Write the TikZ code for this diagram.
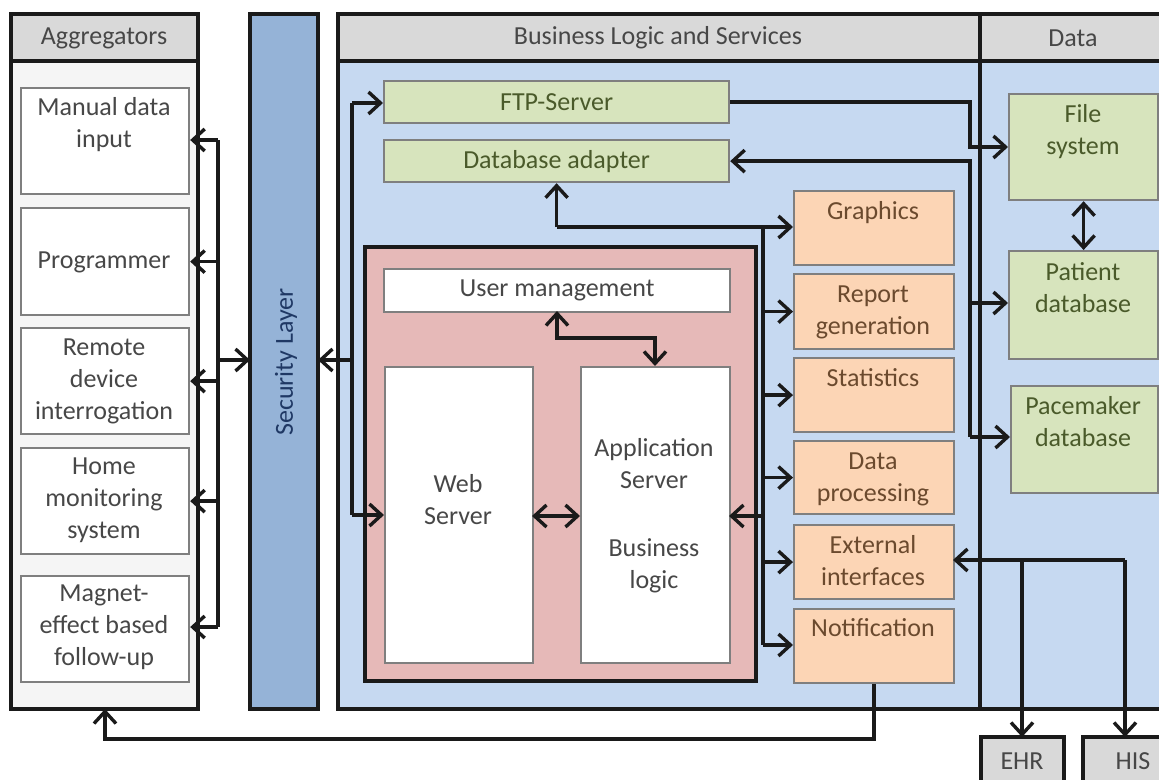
\documentclass[tikz,border=0pt]{standalone}
\usepackage{fontspec}
\setmainfont{Carlito}
\usetikzlibrary{arrows.meta}
\definecolor{hdrgrey}{HTML}{D9D9D9}
\definecolor{linec}{HTML}{1A1A1A}
\definecolor{boxgrey}{HTML}{7F7F7F}
\definecolor{secblue}{HTML}{95B3D7}
\definecolor{bizblue}{HTML}{C6D9F1}
\definecolor{greenf}{HTML}{D7E4BD}
\definecolor{orangef}{HTML}{FCD5B5}
\definecolor{redf}{HTML}{E6B9B8}
\definecolor{txtgrey}{HTML}{474747}
\definecolor{txtgreen}{HTML}{4A5A2A}
\definecolor{txtbrown}{HTML}{6B4A2E}
\definecolor{txtblue}{HTML}{1F3864}
\begin{document}
\begin{tikzpicture}[x=1pt,y=-1pt,
  panel/.style={draw=linec,line width=3.2pt},
  hdr/.style={draw=linec,line width=3.2pt,fill=hdrgrey},
  bx/.style={draw=boxgrey,line width=2.2pt,anchor=north west,inner sep=0pt},
  lbl/.style={font=\fontsize{26}{32}\selectfont,align=center,inner sep=0pt,text=txtgrey},
  lblg/.style={lbl,text=txtgreen},
  lblo/.style={lbl,text=txtbrown},
  ln/.style={draw=linec,line width=3.4pt},
  tip/.style={},
  arr/.style={ln,-{Straight Barb[length=12pt,width=22pt,line width=3.4pt]}},
  darr/.style={ln,{Straight Barb[length=12pt,width=22pt,line width=3.4pt]}-{Straight Barb[length=12pt,width=22pt,line width=3.4pt]}}
]
\useasboundingbox (0,0) rectangle (1159,779);
\clip (0,0) rectangle (1159,779);
\fill[white] (0,0) rectangle (1159,779);

% Aggregators panel
\filldraw[panel,fill=white!96!black] (11,14) rectangle (198,709);
\filldraw[hdr] (11,14) rectangle (198,61);
\node[lbl] (haggr) at (104,38) {Aggregators};

% Security layer
\filldraw[panel,fill=secblue] (250,14) rectangle (318,709);
\node[lbl,text=txtblue,rotate=90] (seclbl) at (286,362) {Security Layer};
\coordinate (secW) at (250,360);
\coordinate (secE) at (318,360);

% Business + Data panel
\filldraw[panel,fill=bizblue] (338,14) rectangle (1175,709);
\filldraw[hdr] (338,14) rectangle (1175,61);
\draw[panel] (980,14) -- (980,709);
\node[lbl] (hbiz) at (658,38) {Business Logic and Services};
\node[lbl] (hdata) at (1073,38) {Data};

% Aggregator boxes
\node[bx,fill=white,minimum width=168,minimum height=106] (m1) at (20,87) {};
\node[bx,fill=white,minimum width=168,minimum height=107] (m2) at (20,207) {};
\node[bx,fill=white,minimum width=168,minimum height=106] (m3) at (20,327) {};
\node[bx,fill=white,minimum width=168,minimum height=106] (m4) at (20,447) {};
\node[bx,fill=white,minimum width=168,minimum height=106] (m5) at (20,575) {};
\node[lbl] (t1) at (104,125) {Manual data\\input};
\node[lbl] (t2) at (104,262) {Programmer};
\node[lbl] (t3) at (104,381) {Remote\\device\\interrogation};
\node[lbl] (t4) at (104,500) {Home\\monitoring\\system};
\node[lbl] (t5) at (104,627) {Magnet-\\effect based\\follow-up};

% Aggregator bus
\coordinate (bus) at (218,0);
\coordinate (m1p) at (198,140);
\coordinate (m5p) at (198,627);
\draw[ln] (m1p -| bus) -- (m5p -| bus);
\draw[arr] (m1p -| bus) -- (m1p -| m1.east);
\draw[arr] (m2.east -| bus) -- (m2.east);
\draw[arr] (m3.east -| bus) -- (m3.east);
\draw[arr] (m4.east -| bus) -- (m4.east);
\draw[arr] (m5p -| bus) -- (m5p -| m5.east);
\draw[arr] (secW -| bus) -- (secW);

% Green service boxes
\node[bx,fill=greenf,minimum width=345,minimum height=42] (ftp) at (383,80) {};
\node[lblg] (ftpT) at (ftp.center) {FTP-Server};
\node[bx,fill=greenf,minimum width=345,minimum height=42] (dba) at (383,139) {};
\node[lblg] (dbaT) at (dba.center) {Database adapter};

% Red application box
\filldraw[panel,fill=redf] (365,247) rectangle (756,681);
\node[bx,fill=white,minimum width=346,minimum height=43] (um) at (383,268) {};
\node[lbl] (umT) at (um.center) {User management};
\node[bx,fill=white,minimum width=148,minimum height=296] (web) at (384,366) {};
\node[lbl] (webT) at (458,500) {Web\\Server};
\node[bx,fill=white,minimum width=149,minimum height=296] (app) at (580,366) {};
\node[lbl] (appT) at (654,516) {Application\\Server\\[36pt]Business\\logic};

% Orange boxes
\node[bx,fill=orangef,minimum width=160,minimum height=74] (gr) at (793,190) {};
\node[bx,fill=orangef,minimum width=160,minimum height=75] (rg) at (793,273) {};
\node[bx,fill=orangef,minimum width=160,minimum height=74] (st) at (793,357) {};
\node[bx,fill=orangef,minimum width=160,minimum height=73] (dp) at (793,440) {};
\node[bx,fill=orangef,minimum width=160,minimum height=74] (ei) at (793,524) {};
\node[bx,fill=orangef,minimum width=160,minimum height=74] (nt) at (793,608) {};
\node[lblo] (grT) at (873,213) {Graphics};
\node[lblo] (rgT) at (873,312) {Report\\generation};
\node[lblo] (stT) at (873,378) {Statistics};
\node[lblo] (dpT) at (873,479) {Data\\processing};
\node[lblo] (eiT) at (873,561) {External\\interfaces};
\node[lblo] (ntT) at (873,628) {Notification};

% Data boxes
\node[bx,fill=greenf,minimum width=149,minimum height=106] (fs) at (1008,93) {};
\node[bx,fill=greenf,minimum width=149,minimum height=108] (pd) at (1008,250) {};
\node[bx,fill=greenf,minimum width=147,minimum height=107] (pm) at (1010,385) {};
\node[lblg] (fsT) at (1083,132) {File\\system};
\node[lblg] (pdT) at (1083,288) {Patient\\database};
\node[lblg] (pmT) at (1083,422) {Pacemaker\\database};

% External boxes
\filldraw[draw=linec,line width=3.2pt,fill=hdrgrey] (981,737) rectangle (1064,800);
\filldraw[draw=linec,line width=3.2pt,fill=hdrgrey] (1083,737) rectangle (1180,800);
\coordinate (ehr) at (1022,737);
\coordinate (his) at (1125,737);
\node[lbl] (ehrT) at (1022,761) {EHR};
\node[lbl] (hisT) at (1133,761) {HIS};

% Left loop: security <-> FTP / Web
\coordinate (lbus) at (352,0);
\coordinate (ftpIn) at (383,103);
\coordinate (webIn) at (384,515);
\draw[ln] (ftpIn -| lbus) -- (webIn -| lbus);
\draw[arr] (ftpIn -| lbus) -- (ftpIn);
\draw[arr] (webIn -| lbus) -- (webIn);
\draw[arr] (secE -| lbus) -- (secE);

% FTP -> File system
\coordinate (rb) at (970,0);
\coordinate (fsIn) at (1008,147);
\draw[arr] (ftp.east) -- (ftp.east -| rb) -- (fsIn -| rb) -- (fsIn);

% Database adapter <-> Patient / Pacemaker
\coordinate (pdIn) at (1008,303);
\coordinate (pmIn) at (1010,437);
\draw[arr] (pmIn -| rb) -- (dba.east -| rb) -- (dba.east);
\draw[arr] (pdIn -| rb) -- (pdIn);
\draw[arr] (pmIn -| rb) -- (pmIn);

% File system <-> Patient database
\draw[darr] (fs.south) -- (fs.south |- pd.north);

% User management <-> Application server
\coordinate (umB) at (557,311);
\coordinate (appT2) at (655,366);
\draw[darr] (umB) -- (557,338) -- (655,338) -- (appT2);

% Web <-> App
\draw[darr] (532,516) -- (580,516);

% Orange bus
\coordinate (ob) at (763,0);
\coordinate (grIn) at (793,227);
\coordinate (ntIn) at (793,645);
\draw[arr] (dba.south |- grIn) -- (dba.south);
\draw[ln] (dba.south |- grIn) -- (grIn -| ob) -- (ntIn -| ob);
\draw[arr] (grIn -| ob) -- (grIn);
\draw[arr] (rg.west -| ob) -- (rg.west);
\draw[arr] (st.west -| ob) -- (st.west);
\draw[arr] (dp.west -| ob) -- (dp.west);
\draw[arr] (ei.west -| ob) -- (ei.west);
\draw[arr] (ntIn -| ob) -- (ntIn);
\coordinate (appIn) at (729,516);
\draw[arr] (appIn -| ob) -- (appIn);

% External interfaces <-> EHR / HIS
\coordinate (eiIn) at (953,560);
\draw[arr] (eiIn -| his) -- (eiIn);
\draw[arr] (eiIn -| ehr) -- (ehr);
\draw[arr] (eiIn -| his) -- (his);

% Notification -> Aggregators
\coordinate (aggB) at (105,709);
\draw[arr] (nt.south) -- (nt.south |- 0,739) -- (aggB |- 0,739) -- (aggB);
\end{tikzpicture}
\end{document}
